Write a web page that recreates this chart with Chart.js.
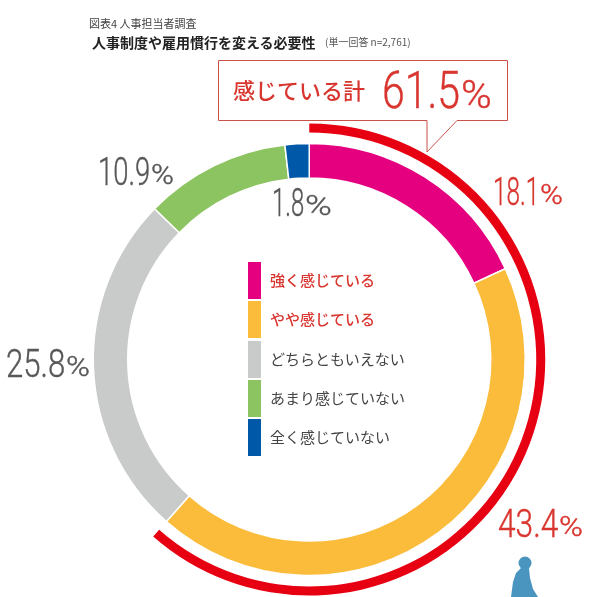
<!DOCTYPE html>
<html lang="ja">
<head>
    <meta charset="UTF-8">
    <title>人事制度や雇用慣行を変える必要性</title>
    <script src="https://cdn.jsdelivr.net/npm/chart.js"></script>
    <style>
        html, body { margin: 0; padding: 0; background: #fff; }
        #page {
            position: relative;
            width: 614px;
            height: 597px;
            overflow: hidden;
            font-family: 'Noto Sans CJK JP', sans-serif;
        }
        #chart-box { position: absolute; left: 0; top: 0; width: 614px; height: 719px; }
        #callout { position: absolute; left: 0; top: 0; }
        .txt { position: absolute; white-space: nowrap; line-height: 1; }
        .num {
            font-family: 'Roboto', sans-serif;
            font-weight: 300;
            -webkit-text-stroke: 0.4px currentColor;
            transform-origin: left top;
        }
        .swatch { position: absolute; left: 248px; width: 13px; height: 37px; }
        .legend-label { left: 270px; font-size: 15px; transform: translateY(-50%); }
    </style>
</head>
<body>
<div id="page">
    <div id="chart-box"><canvas id="chart"></canvas></div>

    <svg id="callout" width="614" height="597">
        <path d="M218.5 60.5 H507.5 V120.5 H457 L427 152 V120.5 H218.5 Z" fill="none" stroke="#c8524a" stroke-width="1"/>
        <g fill="#4a94c0">
            <circle cx="525" cy="563" r="6.5"/>
            <path d="M521 568 L529 568 L530 578 L533 589 L538 597 L511 597 L513 582 L516 573 Z"/>
        </g>
    </svg>

    <div class="txt" style="left:89px;top:18px;font-size:11px;color:#444">図表4 人事担当者調査</div>
    <div class="txt" style="left:92px;top:35px;font-size:14px;font-weight:700;color:#222">人事制度や雇用慣行を変える必要性</div>
    <div class="txt" style="left:325px;top:37px;font-size:10px;color:#555">(単一回答 n=2,761)</div>

    <div class="txt" style="left:233px;top:78px;font-size:22px;font-weight:500;color:#d9352f">感じている計</div>

    <div id="labels"></div>
    <div id="legend"></div>
</div>

<script>
    const categories = ['強く感じている', 'やや感じている', 'どちらともいえない', 'あまり感じていない', '全く感じていない'];
    const shares = [18.1, 43.4, 25.8, 10.9, 1.8];
    const sliceColors = ['#e4007f', '#fbbc3b', '#c9caca', '#8dc462', '#0058a8'];
    const feelTotal = [61.5, 38.5];

    const RED = '#d9352f';
    const GREY = '#595757';

    // left, middle y, digits width, right end, same order as shares
    const labelSpots = [
        [493, 191, 46, 563, RED],
        [498, 523, 60, 583, RED],
        [6, 363, 59, 90, GREY],
        [98, 171, 52, 174, GREY],
        [272, 202, 32, 332, GREY]
    ];
    const legendTops = [262, 301, 341, 380, 419];

    const ctx = document.getElementById('chart').getContext('2d');
    new Chart(ctx, {
        type: 'doughnut',
        data: {
            labels: categories,
            datasets: [
                // red arc outside the ring
                { data: feelTotal, backgroundColor: ['#e60012', 'rgba(0,0,0,0)'], borderWidth: 0, weight: 9 },
                // empty gap
                { data: [100], backgroundColor: ['rgba(0,0,0,0)'], borderWidth: 0, weight: 11 },
                { data: shares, backgroundColor: sliceColors, borderColor: '#fff', borderWidth: 1.5, weight: 34.5 }
            ]
        },
        options: {
            responsive: true,
            maintainAspectRatio: false,
            animation: false,
            cutout: 181.5,
            layout: { padding: { left: 73.25, right: 68.75, top: 123.5, bottom: 123.5 } },
            plugins: { legend: { display: false }, tooltip: { enabled: false } }
        }
    });

    const labels = document.getElementById('labels');

    // one run of thin text, squeezed to a given width, sitting on a baseline
    function addRun(text, left, baseline, size, width, color) {
        const d = document.createElement('div');
        d.className = 'txt num';
        d.textContent = text;
        d.style.fontSize = size + 'px';
        d.style.left = left + 'px';
        d.style.top = (baseline - 0.841 * size) + 'px';
        d.style.color = color;
        labels.appendChild(d);
        d.style.transform = 'scaleX(' + (width / d.offsetWidth) + ')';
    }

    function addPercent(value, left, middle, digitsW, right, size, pctSize, color) {
        const baseline = middle + 0.355 * size;
        addRun(value.toFixed(1), left, baseline, size, digitsW, color);
        addRun('%', left + digitsW + 1, baseline, pctSize, right - left - digitsW - 1, color);
    }

    shares.forEach((v, i) => {
        const s = labelSpots[i];
        addPercent(v, s[0], s[1], s[2], s[3], 38, 27, s[4]);
    });
    addPercent(feelTotal[0], 382, 90, 78, 492, 52, 39, RED);

    // legend
    const legend = document.getElementById('legend');
    categories.forEach((name, i) => {
        const s = document.createElement('div');
        s.className = 'swatch';
        s.style.top = legendTops[i] + 'px';
        s.style.background = sliceColors[i];
        legend.appendChild(s);

        const t = document.createElement('div');
        t.className = 'txt legend-label';
        t.textContent = name;
        t.style.top = (legendTops[i] + 17) + 'px';
        t.style.color = i < 2 ? RED : '#444';
        t.style.fontWeight = i < 2 ? 500 : 400;
        legend.appendChild(t);
    });
</script>
</body>
</html>
